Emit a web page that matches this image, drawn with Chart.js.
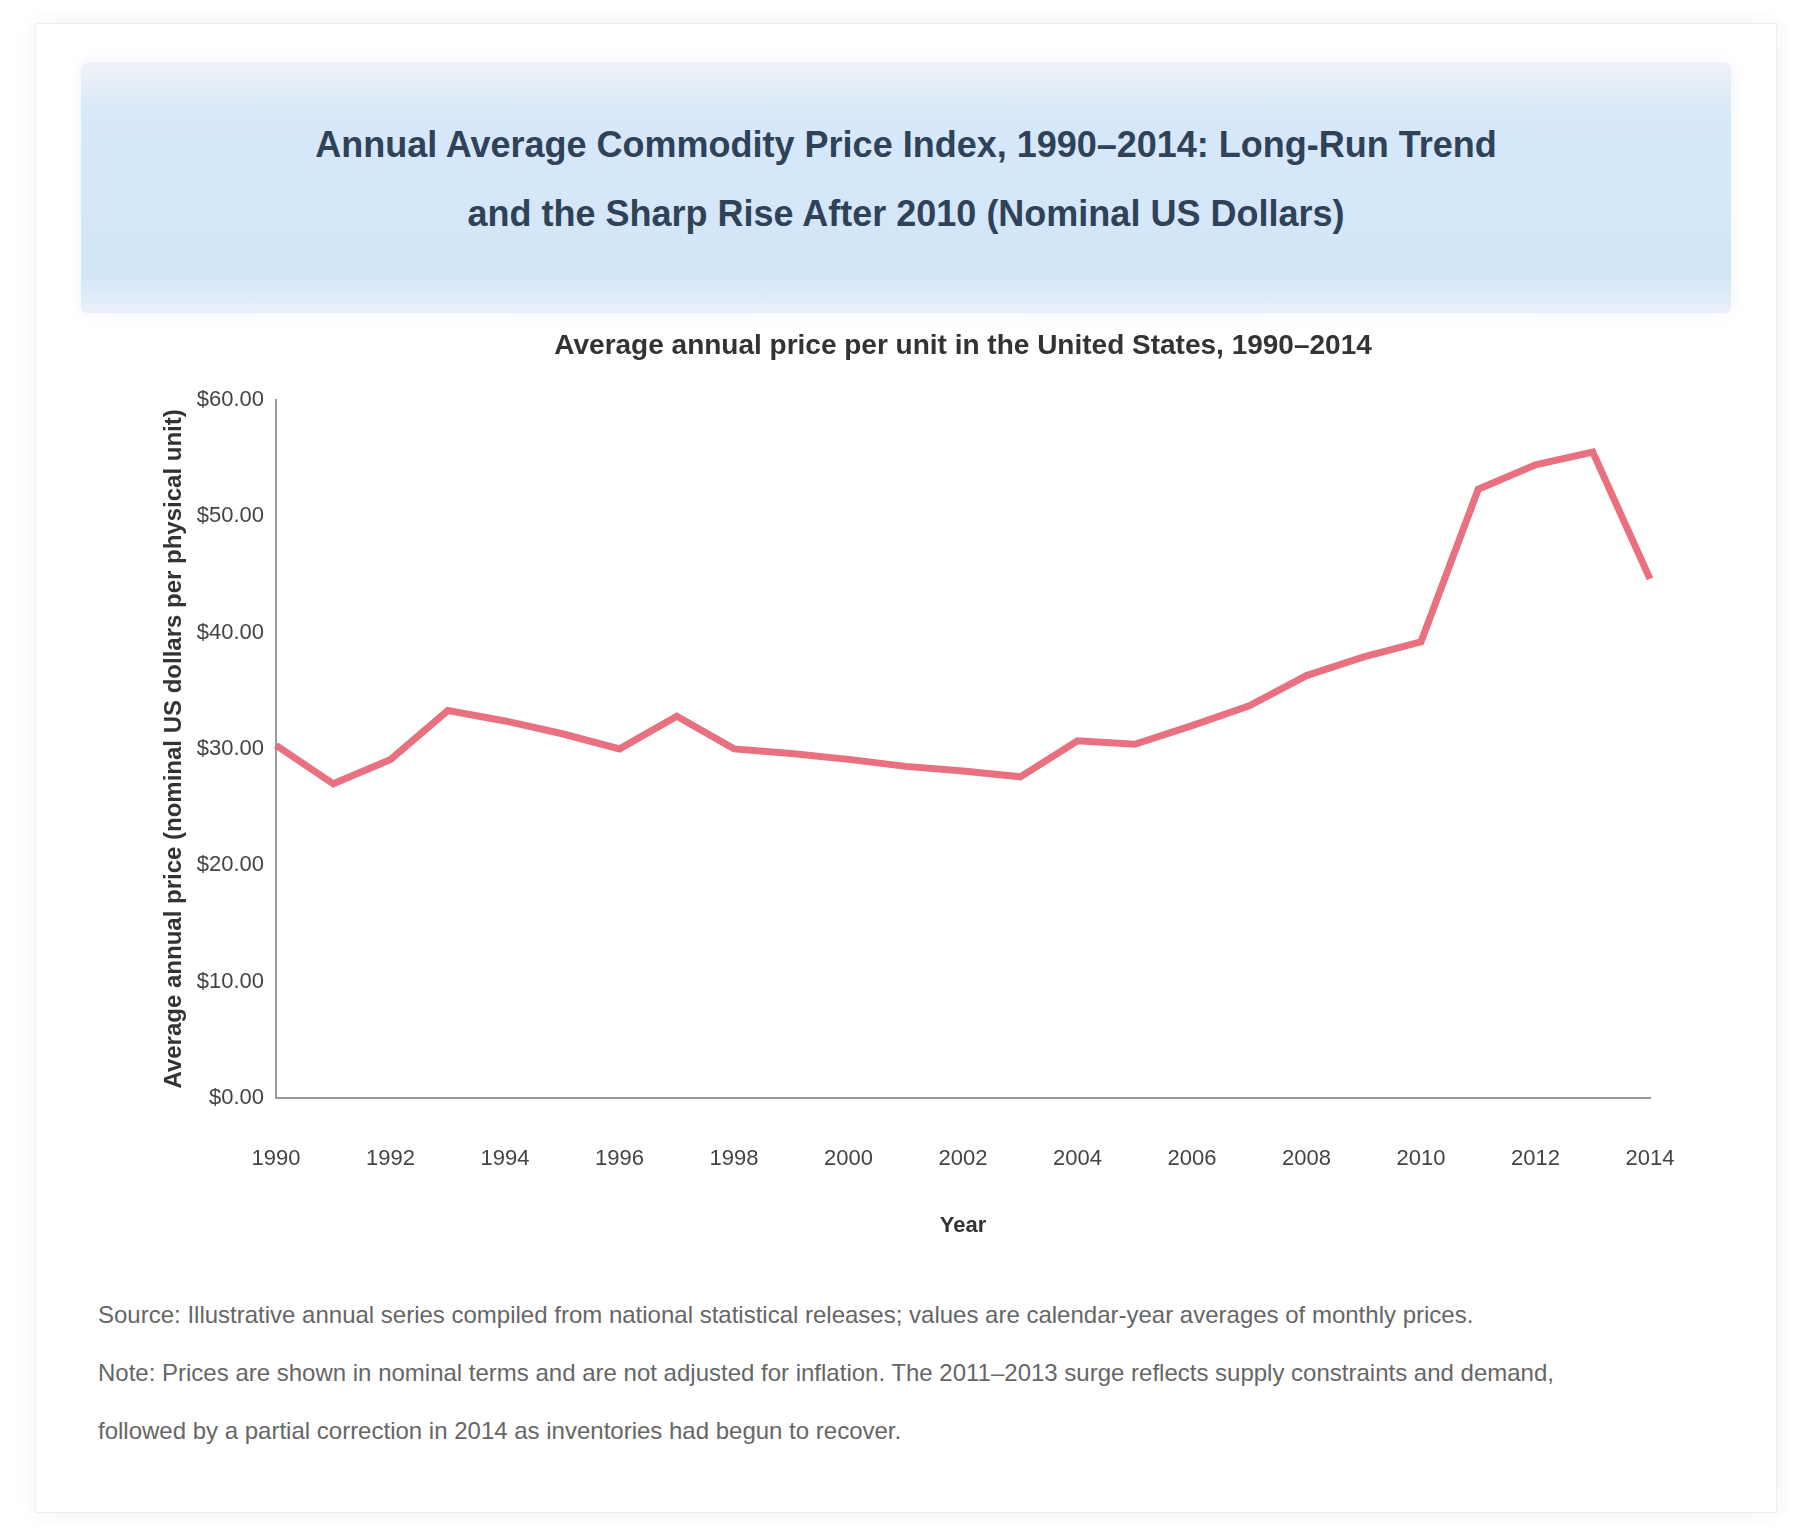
<!DOCTYPE html>
<html>
<head>
<meta charset="utf-8">
<script src="https://cdn.jsdelivr.net/npm/chart.js@4"></script>
<style>
  body { margin: 0; background: #fff; font-family: "Liberation Sans", Arial, sans-serif; }
  .card {
    position: absolute; left: 35px; top: 23px; width: 1740px; height: 1488px;
    background: #fff; border: 1px solid #ececf2; box-shadow: 0 0 18px rgba(60,60,90,0.08);
  }
  .header {
    position: absolute; left: 81px; top: 63px; width: 1650px; height: 232px; padding-bottom: 18px;
    background: linear-gradient(#eef2f7 0%, #d6e8f9 22%, #d3e6f8 85%, #eaf0fa 100%);
    border-radius: 6px; box-shadow: 0 0 14px rgba(120,140,220,0.12);
    display: flex; align-items: center; justify-content: center; text-align: center;
    color: #2f4258; font-weight: bold; font-size: 36px; line-height: 69px;
  }
  .chartbox { position: absolute; left: 100px; top: 325px; width: 1630px; height: 940px; }
  .footer {
    position: absolute; left: 98px; top: 1286px; width: 1600px;
    color: #666; font-size: 24px; line-height: 58px; white-space: nowrap;
  }
</style>
</head>
<body>
<div class="card"></div>
<div class="header">
  <div>Annual Average Commodity Price Index, 1990–2014: Long-Run Trend<br>and the Sharp Rise After 2010 (Nominal US Dollars)</div>
</div>
<div class="chartbox"><canvas id="priceChart"></canvas></div>
<div class="footer">
  Source: Illustrative annual series compiled from national statistical releases; values are calendar-year averages of monthly prices.<br>
  Note: Prices are shown in nominal terms and are not adjusted for inflation. The 2011–2013 surge reflects supply constraints and demand,<br>
  followed by a partial correction in 2014 as inventories had begun to recover.
</div>
<script>
// categories and series values
const years = ['1990', '1991', '1992', '1993', '1994', '1995', '1996', '1997', '1998', '1999',
               '2000', '2001', '2002', '2003', '2004', '2005', '2006', '2007', '2008', '2009',
               '2010', '2011', '2012', '2013', '2014'];
const avgPrice = [30.3, 27.0, 29.1, 33.3, 32.4, 31.3, 30.0, 32.8, 30.0, 29.6,
                  29.1, 28.5, 28.1, 27.6, 30.7, 30.4, 32.0, 33.7, 36.3, 37.9,
                  39.2, 52.3, 54.4, 55.5, 44.6];
const yTicks = [0, 10, 20, 30, 40, 50, 60];

const fontFamily = '"Liberation Sans", Arial, sans-serif';
const textColor = '#444';

new Chart(document.getElementById('priceChart').getContext('2d'), {
    type: 'line',
    data: {
        labels: years,
        datasets: [{
            label: 'Average price',
            data: avgPrice,
            borderColor: '#e9707f',
            borderWidth: 7,
            pointRadius: 0,
            tension: 0,
            fill: false
        }]
    },
    options: {
        responsive: true,
        maintainAspectRatio: false,
        animation: false,
        layout: { padding: { left: 56, right: 80, top: 0, bottom: 22 } },
        plugins: {
            legend: { display: false },
            title: {
                display: true,
                fullSize: false,
                text: 'Average annual price per unit in the United States, 1990–2014',
                color: '#333',
                font: { family: fontFamily, size: 28, weight: 'bold' },
                padding: { top: 4, bottom: 37 }
            }
        },
        scales: {
            x: {
                grid: { display: false },
                border: { color: '#999', width: 2 },
                ticks: {
                    color: textColor,
                    autoSkip: false,
                    maxRotation: 0,
                    padding: 40,
                    font: { family: fontFamily, size: 22 },
                    callback: function (v, i) { return i % 2 === 0 ? years[i] : ''; }
                },
                title: {
                    display: true, text: 'Year', color: '#333',
                    font: { family: fontFamily, size: 22, weight: 'bold' },
                    padding: { top: 0 }
                }
            },
            y: {
                min: yTicks[0],
                max: yTicks[yTicks.length - 1],
                grid: { display: false },
                border: { color: '#999', width: 2 },
                afterBuildTicks: function (axis) { axis.ticks = yTicks.map(v => ({ value: v })); },
                ticks: {
                    color: textColor,
                    padding: 4,
                    font: { family: fontFamily, size: 22 },
                    callback: function (v) { return '$' + v.toFixed(2); }
                },
                title: {
                    display: true, text: 'Average annual price (nominal US dollars per physical unit)', color: '#333',
                    font: { family: fontFamily, size: 24, weight: 'bold' }
                }
            }
        }
    }
});
</script>
</body>
</html>
